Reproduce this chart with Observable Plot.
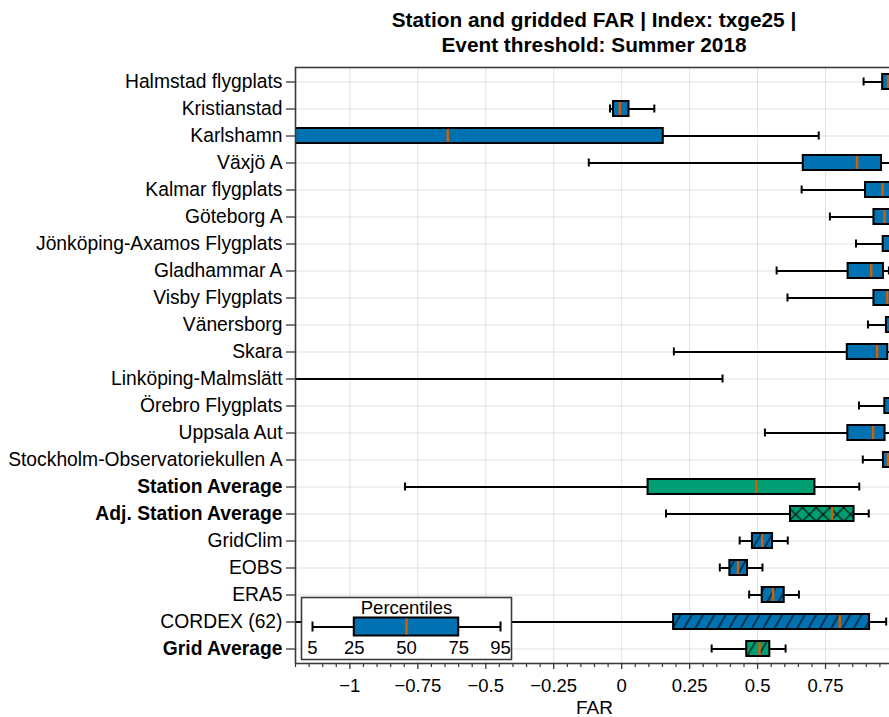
<!DOCTYPE html>
<html>
<head>
<meta charset="utf-8">
<script src="https://cdn.jsdelivr.net/npm/d3@7"></script>
<script src="https://cdn.jsdelivr.net/npm/@observablehq/plot@0.6"></script>
<style>
  html, body { margin: 0; padding: 0; overflow: hidden; background: #fff; }
  #wrap { position: relative; width: 889px; height: 717px; overflow: hidden;
          font-family: "Liberation Sans", Arial, Helvetica, sans-serif; color: #000; }
  #chart { position: absolute; left: 0; top: 0; width: 900px; }
  #chart svg, #legend svg { max-width: none !important; }
  #title { position: absolute; left: 295px; width: 598px; top: 7px; text-align: center;
           font-weight: bold; font-size: 20.8px; line-height: 25px; }
  #legend { position: absolute; left: 300px; top: 596px; width: 212px; }
</style>
</head>
<body>
<div id="wrap">
  <div id="chart"></div>
  <div id="title">Station and gridded FAR | Index: txge25 |<br>Event threshold: Summer 2018</div>
  <div id="legend"></div>
</div>
<script>
// Rows, top to bottom
const names = [
  "Halmstad flygplats", "Kristianstad", "Karlshamn", "Växjö A", "Kalmar flygplats",
  "Göteborg A", "Jönköping-Axamos Flygplats", "Gladhammar A", "Visby Flygplats",
  "Vänersborg", "Skara", "Linköping-Malmslätt", "Örebro Flygplats", "Uppsala Aut",
  "Stockholm-Observatoriekullen A", "Station Average", "Adj. Station Average",
  "GridClim", "EOBS", "ERA5", "CORDEX (62)", "Grid Average"
];
const kinds = [
  "station", "station", "station", "station", "station", "station", "station", "station",
  "station", "station", "station", "station", "station", "station", "station",
  "stationAverage", "adjustedAverage", "gridded", "gridded", "gridded", "gridded", "gridAverage"
];

// FAR percentiles per row (5th, 25th, 50th, 75th, 95th)
const p5  = [0.89, -0.043, -2.6, -0.121, 0.662, 0.766, 0.862, 0.57, 0.61, 0.906, 0.192, -4.2, 0.873, 0.527, 0.887, -0.797, 0.163, 0.434, 0.361, 0.469, -1.5, 0.331];
const p25 = [0.96, -0.03, -1.65, 0.668, 0.897, 0.928, 0.962, 0.833, 0.928, 0.974, 0.83, -2.8, 0.968, 0.832, 0.963, 0.097, 0.621, 0.481, 0.398, 0.517, 0.191, 0.46];
const p50 = [0.98, -0.007, -0.64, 0.866, 0.96, 0.967, 0.99, 0.918, 0.977, 0.995, 0.94, -1.9, 0.99, 0.925, 0.979, 0.495, 0.774, 0.517, 0.428, 0.557, 0.802, 0.507];
const p75 = [1.0, 0.027, 0.153, 0.956, 1.0, 1.0, 1.0, 0.963, 1.0, 1.0, 0.979, -1.35, 1.0, 0.969, 1.0, 0.711, 0.855, 0.555, 0.463, 0.598, 0.912, 0.545];
const p95 = [1.0, 0.12, 0.725, 0.99, 1.0, 1.0, 1.0, 0.983, 1.0, 1.0, 1.0, 0.371, 1.0, 1.0, 1.0, 0.874, 0.909, 0.611, 0.518, 0.652, 0.973, 0.603];

const boldNames = ["Station Average", "Adj. Station Average", "Grid Average"];
const xMajorTicks = [-1, -0.75, -0.5, -0.25, 0, 0.25, 0.5, 0.75, 1];
const legendPercentiles = [5, 25, 50, 75, 95];

const BLUE = "#0072B2", GREEN = "#009E73", ORANGE = "#D55E00";
const fillOf = {station: BLUE, gridded: BLUE, stationAverage: GREEN, adjustedAverage: GREEN, gridAverage: GREEN};
const hatchOf = {gridded: "slash", gridAverage: "slash", adjustedAverage: "cross"};

const rows = names.map((name, i) => ({
  name, kind: kinds[i], p5: p5[i], p25: p25[i], p50: p50[i], p75: p75[i], p95: p95[i]
}));

const xMinorTicks = d3.range(-24, 21).map(k => k / 20)
  .filter(v => !xMajorTicks.some(t => Math.abs(t - v) < 1e-9));
const farFormat = d => (d < 0 ? "\u2212" : "") + Math.abs(d);

const font = '"Liberation Sans", Arial, Helvetica, sans-serif';
const boxInset = 6, capInset = 9.5;
const spine = "#3a3a3a";

const chart = Plot.plot({
  width: 900,
  height: 717,
  marginLeft: 295,
  marginRight: 7,
  marginTop: 67,
  marginBottom: 54,
  style: {fontFamily: font, fontSize: "18px", background: "white", color: "#000", maxWidth: "none"},
  x: {domain: [-1.2, 1.0], label: null},
  y: {domain: names, padding: 0, label: null},
  color: {type: "identity"},
  marks: [
    Plot.gridX({ticks: xMajorTicks, stroke: "#000", strokeOpacity: 0.12, strokeWidth: 1}),
    Plot.gridY({ticks: names, stroke: "#000", strokeOpacity: 0.12, strokeWidth: 1}),
    // whiskers and caps
    Plot.ruleY(rows, {y: "name", x1: "p5", x2: "p95", stroke: "#000", strokeWidth: 2, clip: true}),
    Plot.tickX(rows, {y: "name", x: "p5", stroke: "#000", strokeWidth: 2, insetTop: capInset, insetBottom: capInset, clip: true}),
    Plot.tickX(rows, {y: "name", x: "p95", stroke: "#000", strokeWidth: 2, insetTop: capInset, insetBottom: capInset, clip: true}),
    // interquartile boxes
    Plot.barX(rows, {y: "name", x1: "p25", x2: "p75", fill: d => fillOf[d.kind], insetTop: boxInset, insetBottom: boxInset, clip: true}),
    Plot.barX(rows.filter(d => hatchOf[d.kind] === "slash"), {y: "name", x1: "p25", x2: "p75", fill: "url(#hatch-slash)", insetTop: boxInset, insetBottom: boxInset, clip: true}),
    Plot.barX(rows.filter(d => hatchOf[d.kind] === "cross"), {y: "name", x1: "p25", x2: "p75", fill: "url(#hatch-cross)", insetTop: boxInset, insetBottom: boxInset, clip: true}),
    Plot.barX(rows, {y: "name", x1: "p25", x2: "p75", fill: "none", stroke: "#000", strokeWidth: 2, insetTop: boxInset, insetBottom: boxInset, clip: true}),
    // medians
    Plot.tickX(rows, {y: "name", x: "p50", stroke: ORANGE, strokeWidth: 2.4, insetTop: boxInset + 1, insetBottom: boxInset + 1, clip: true}),
    Plot.frame({stroke: spine, strokeWidth: 1.6}),
    Plot.axisY({ticks: names.filter(n => !boldNames.includes(n)), tickSize: 9, tickPadding: 4, fontSize: 19.3, stroke: spine, strokeWidth: 1.3, label: null}),
    Plot.axisY({ticks: boldNames, tickSize: 9, tickPadding: 4, fontSize: 19.3, fontWeight: "bold", stroke: spine, strokeWidth: 1.3, label: null}),
    Plot.axisX({ticks: xMajorTicks, tickFormat: farFormat, tickSize: 6, tickPadding: 9, fontSize: 18.5, stroke: spine, strokeWidth: 1.3, label: null}),
    Plot.axisX({ticks: xMinorTicks, tickSize: 4, fill: "none", stroke: spine, strokeWidth: 1.2, label: null}),
    Plot.text(["FAR"], {frameAnchor: "bottom", lineAnchor: "middle", dy: 44, fontSize: 19})
  ]
});

// hatch patterns referenced by the boxes above
const defs = d3.select(chart).insert("defs", ":first-child");
const slash = defs.append("pattern")
  .attr("id", "hatch-slash").attr("patternUnits", "userSpaceOnUse")
  .attr("width", 9.8).attr("height", 9.8).attr("patternTransform", "rotate(30)");
slash.append("line").attr("x1", 4.9).attr("y1", -1).attr("x2", 4.9).attr("y2", 10.8)
  .attr("stroke", "#000").attr("stroke-width", 1.1);
const cross = defs.append("pattern")
  .attr("id", "hatch-cross").attr("patternUnits", "userSpaceOnUse")
  .attr("width", 9.7).attr("height", 9.7).attr("patternTransform", "rotate(45)");
cross.append("line").attr("x1", 4.85).attr("y1", -1).attr("x2", 4.85).attr("y2", 10.7)
  .attr("stroke", "#000").attr("stroke-width", 1.1);
cross.append("line").attr("x1", -1).attr("y1", 4.85).attr("x2", 10.7).attr("y2", 4.85)
  .attr("stroke", "#000").attr("stroke-width", 1.1);

document.getElementById("chart").append(chart);

// Percentile key: a single box plot with its percentile labels
const keyLayout = {whiskerY: 30.5, boxTop: 21.5, boxBottom: 39.5, capTop: 25.5, capBottom: 35.5};
const [k5, k25, k50, k75, k95] = legendPercentiles;
const key = Plot.plot({
  width: 212,
  height: 64,
  margin: 0,
  style: {fontFamily: font, fontSize: "18.5px", background: "transparent", color: "#000", overflow: "visible", maxWidth: "none"},
  x: {domain: [k5, k95], range: [12, 200], axis: null},
  y: {type: "identity", axis: null},
  marks: [
    Plot.frame({fill: "white", stroke: spine, strokeWidth: 1.6, inset: 1}),
    Plot.ruleY([{y: keyLayout.whiskerY, a: k5, b: k95}], {y: "y", x1: "a", x2: "b", stroke: "#000", strokeWidth: 2}),
    Plot.ruleX([k5, k95], {x: d => d, y1: keyLayout.capTop, y2: keyLayout.capBottom, stroke: "#000", strokeWidth: 2}),
    Plot.rect([{a: k25, b: k75}], {x1: "a", x2: "b", y1: keyLayout.boxTop, y2: keyLayout.boxBottom, fill: BLUE, stroke: "#000", strokeWidth: 2}),
    Plot.ruleX([k50], {x: d => d, y1: keyLayout.boxTop + 1, y2: keyLayout.boxBottom - 1, stroke: ORANGE, strokeWidth: 2.4}),
    Plot.text(["Percentiles"], {frameAnchor: "top", lineAnchor: "middle", dy: 11.5, fontSize: 18.5}),
    Plot.text(legendPercentiles, {x: d => d, frameAnchor: "bottom", lineAnchor: "middle", dy: -12.5, fontSize: 18.5})
  ]
});
document.getElementById("legend").append(key);
</script>
</body>
</html>
